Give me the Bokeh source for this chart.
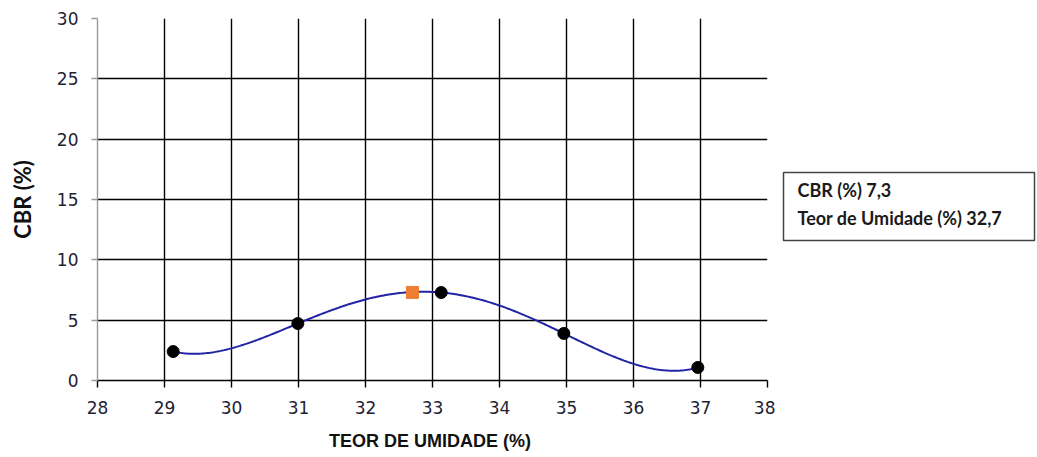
import numpy as np
from bokeh.plotting import figure
from bokeh.models import Label, FixedTicker, BoxAnnotation
from bokeh.layouts import row
from bokeh.embed import file_html
from bokeh.resources import INLINE

# data
umidade = [29.13, 30.99, 33.13, 34.96, 36.96]
cbr = [2.4, 4.72, 7.29, 3.9, 1.08]
umid_otima = 32.7
cbr_max = 7.3
x_ticks = [28, 29, 30, 31, 32, 33, 34, 35, 36, 37, 38]
y_ticks = [0, 5, 10, 15, 20, 25, 30]

W1, W2, H = 775, 261, 456
p = figure(width=W1, height=H, x_range=(28, 38), y_range=(0, 30),
           output_backend="svg", toolbar_location=None,
           min_border_left=97, min_border_right=W1 - 767,
           min_border_top=18, min_border_bottom=H - 380)
p.outline_line_color = None
p.background_fill_color = "white"
p.border_fill_color = "white"

# grid
p.xgrid.ticker = FixedTicker(ticks=x_ticks)
p.ygrid.ticker = FixedTicker(ticks=y_ticks)
for g in (p.xgrid, p.ygrid):
    g.grid_line_color = "black"
    g.grid_line_width = 1.4

# axes
p.xaxis.ticker = FixedTicker(ticks=x_ticks)
p.yaxis.ticker = FixedTicker(ticks=y_ticks)
p.xaxis.axis_label = "TEOR DE UMIDADE  (%)"
p.yaxis.axis_label = "CBR (%)"
for ax in (p.xaxis[0], p.yaxis[0]):
    ax.major_label_text_font = "DejaVu Sans"
    ax.major_label_text_font_size = "17px"
    ax.major_label_text_color = "#222233"
    ax.axis_label_text_font_style = "bold"
    ax.axis_label_text_color = "#111111"
    ax.minor_tick_line_color = None
    ax.major_tick_in = 0
    ax.major_tick_out = 7
p.xaxis.axis_line_color = "black"
p.xaxis.axis_line_width = 1.4
p.xaxis.major_tick_line_color = "black"
p.xaxis.major_tick_line_width = 1.4
p.xaxis.major_label_standoff = 13
p.xaxis.axis_label_standoff = 14
p.xaxis.axis_label_text_font = "Liberation Sans"
p.xaxis.axis_label_text_font_size = "18px"
p.yaxis.axis_line_color = "#9a9a9a"
p.yaxis.axis_line_width = 1.4
p.yaxis.major_tick_line_color = "#9a9a9a"
p.yaxis.major_tick_line_width = 1.4
p.yaxis.major_tick_out = 6
p.yaxis.major_label_standoff = 13
p.yaxis.axis_label_standoff = 18
p.yaxis.axis_label_text_font = "Lato"
p.yaxis.axis_label_text_font_size = "22px"

# polynomial trendline (order 4) through the measured points
coef = np.polyfit(umidade, cbr, 4)
xs = np.linspace(min(umidade), max(umidade), 300)
p.line(xs, np.polyval(coef, xs), line_color="#2323A6", line_width=2)

p.scatter(umidade, cbr, marker="circle", size=12, fill_color="black", line_color="black")
p.scatter([umid_otima], [cbr_max], marker="square", size=12,
          fill_color="#ED7D31", line_color="#ED7D31")

# side panel holding the result box; its frame lines up with the chart frame
q = figure(width=W2, height=H, x_range=(0, W2), y_range=(0, 30),
           output_backend="svg", toolbar_location=None,
           x_axis_type=None, y_axis_type=None,
           min_border_left=0, min_border_right=0, min_border_top=0, min_border_bottom=0)
q.outline_line_color = None
q.xgrid.visible = False
q.ygrid.visible = False
q.background_fill_color = "white"
q.border_fill_color = "white"

box = BoxAnnotation(left=8, right=259, bottom=11.6, top=17.24,
                    fill_color=None, line_color="#444444",
                    line_alpha=1.0, line_width=1.5)
q.add_layout(box)

txt = "CBR (%) " + f"{cbr_max:.1f}".replace(".", ",") + "\nTeor de Umidade (%) " + f"{umid_otima:.1f}".replace(".", ",")
lab = Label(x=9, y=H - 248, x_units="screen", y_units="screen",
            text=txt, text_font="Lato", text_font_style="bold",
            text_font_size="18px", text_color="#1a1a1a", text_line_height=1.3,
            text_align="left", text_baseline="top",
            border_line_color=None, background_fill_color=None,
            padding=(13, 6, 6, 6))
q.add_layout(lab)

layout = row(p, q, spacing=0)
open("out.html", "w").write(file_html(layout, INLINE))
